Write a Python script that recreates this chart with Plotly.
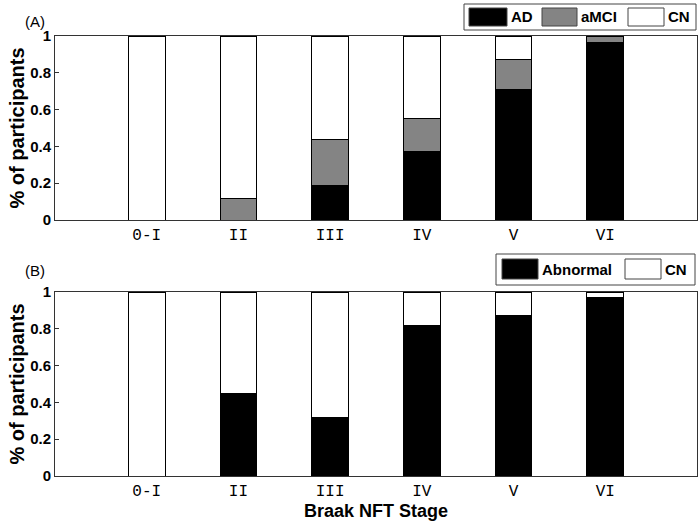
import plotly.graph_objects as go

stages = ["0-I", "II", "III", "IV", "V", "VI"]

# Panel A: clinical diagnosis fractions
ad_a = [0.0, 0.0, 0.19, 0.37, 0.71, 0.965]
amci_a = [0.0, 0.115, 0.25, 0.18, 0.16, 0.035]
cn_a = [1.0, 0.885, 0.56, 0.45, 0.13, 0.0]

# Panel B: abnormal vs CN
abn_b = [0.0, 0.45, 0.32, 0.82, 0.875, 0.97]
cn_b = [1.0, 0.55, 0.68, 0.18, 0.125, 0.03]

y_ticks = [0, 0.2, 0.4, 0.6, 0.8, 1]
y_tick_text = ["0", "0.2", "0.4", "0.6", "0.8", "1"]

BLACK = "#000000"
GRAY = "#848484"
WHITE = "#ffffff"
SANS = "Liberation Sans"
W, H = 700, 524
ML, MR, MT, MB = 55, 3, 36, 48

fig = go.Figure()

series_a = [("AD", ad_a, BLACK), ("aMCI", amci_a, GRAY), ("CN", cn_a, WHITE)]
series_b = [("Abnormal", abn_b, BLACK), ("CN", cn_b, WHITE)]

for name, vals, col in series_a:
    fig.add_trace(go.Bar(x=stages, y=vals, name=name, marker=dict(color=col, line=dict(color="#000", width=1)),
                         width=0.4, xaxis="x", yaxis="y", showlegend=False))
for name, vals, col in series_b:
    fig.add_trace(go.Bar(x=stages, y=vals, name=name, marker=dict(color=col, line=dict(color="#000", width=1)),
                         width=0.4, xaxis="x2", yaxis="y2", showlegend=False))

plot_w = W - ML - MR
plot_h = H - MT - MB


def px_x(px):
    return (px - ML) / plot_w


def px_y(py):
    return (H - MB - py) / plot_h


axis_common = dict(showline=True, linecolor="#333", linewidth=1, mirror=True, showgrid=False, zeroline=False)
xtick_font = dict(family="Liberation Mono", size=16, color="#000")
ytick_font = dict(family=SANS, size=15, color="#000", weight="bold")

fig.update_layout(
    width=W, height=H, barmode="stack", plot_bgcolor="white", paper_bgcolor="white",
    margin=dict(l=ML, r=MR, t=MT, b=MB),
    xaxis=dict(domain=[0, 1], anchor="y", type="category", categoryorder="array", categoryarray=stages,
               range=[-1, 6], ticks="", tickfont=xtick_font, **axis_common),
    yaxis=dict(domain=[px_y(220), 1], anchor="x", range=[0, 1], tickvals=y_ticks, ticktext=y_tick_text,
               ticks="inside", ticklen=4, tickcolor="#333", tickfont=ytick_font,
               title=dict(text="<b>% of participants</b>", font=dict(family=SANS, size=20, color="#000"), standoff=0),
               **axis_common),
    xaxis2=dict(domain=[0, 1], anchor="y2", type="category", categoryorder="array", categoryarray=stages,
                range=[-1, 6], ticks="", tickfont=xtick_font,
                title=dict(text="<b>Braak NFT Stage</b>", font=dict(family=SANS, size=18, color="#000"), standoff=2),
                **axis_common),
    yaxis2=dict(domain=[0, px_y(292)], anchor="x2", range=[0, 1], tickvals=y_ticks, ticktext=y_tick_text,
                ticks="inside", ticklen=4, tickcolor="#333", tickfont=ytick_font,
                title=dict(text="<b>% of participants</b>", font=dict(family=SANS, size=20, color="#000"), standoff=0),
                **axis_common),
)

shapes = []
annotations = []


def legend(box, items):
    x0, y0, x1, y1 = box
    shapes.append(dict(type="rect", xref="paper", yref="paper", x0=px_x(x0), x1=px_x(x1), y0=px_y(y1), y1=px_y(y0),
                       line=dict(color="#444", width=1), fillcolor="white", layer="above"))
    for (label, col), (sx0, sx1, sy0, sy1, tx) in items:
        shapes.append(dict(type="rect", xref="paper", yref="paper", x0=px_x(sx0), x1=px_x(sx1), y0=px_y(sy1),
                           y1=px_y(sy0), line=dict(color="#444", width=1), fillcolor=col, layer="above"))
        annotations.append(dict(xref="paper", yref="paper", x=px_x(tx), y=px_y((sy0 + sy1) / 2), text="<b>" + label + "</b>",
                                showarrow=False, xanchor="left", yanchor="middle",
                                font=dict(family=SANS, size=15, color="#000")))


legend((464, 4, 696, 30), [
    ((series_a[0][0], series_a[0][2]), (469, 507, 8, 26, 509)),
    ((series_a[1][0], series_a[1][2]), (542, 577, 8, 26, 579)),
    ((series_a[2][0], series_a[2][2]), (628, 664, 8, 26, 666)),
])
legend((496, 254, 695, 285), [
    ((series_b[0][0], series_b[0][2]), (502, 538, 259, 279, 540)),
    ((series_b[1][0], series_b[1][2]), (625, 661, 259, 279, 663)),
])

annotations.append(dict(xref="paper", yref="paper", x=px_x(23), y=px_y(11), text="(A)", showarrow=False,
                        font=dict(family=SANS, size=15, color="#000")))
annotations.append(dict(xref="paper", yref="paper", x=px_x(23), y=px_y(270), text="(B)", showarrow=False,
                        font=dict(family=SANS, size=15, color="#000")))

fig.update_layout(shapes=shapes, annotations=annotations)
fig.write_html("out.html", config={"displayModeBar": False},
               post_script="document.body.style.margin='0';document.body.style.overflow='hidden';")
